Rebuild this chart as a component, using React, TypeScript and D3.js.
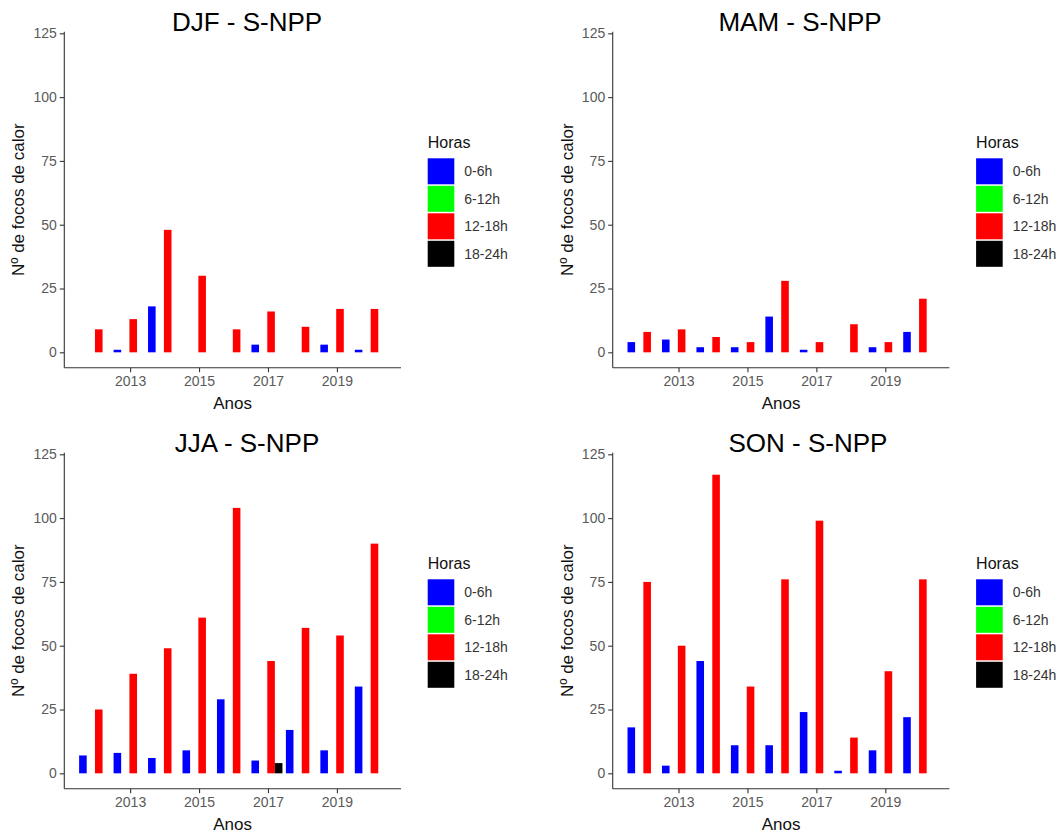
import { useRef, useEffect } from 'react';
import * as d3 from 'd3';

// years on the x axis
const years = [2012, 2013, 2014, 2015, 2016, 2017, 2018, 2019, 2020];
const xTicks = [2013, 2015, 2017, 2019];
const yTicks = [0, 25, 50, 75, 100, 125];
const hourLabels = ['0-6h', '6-12h', '12-18h', '18-24h'];
const hourColors = ['#0000ff', '#00ff00', '#ff0000', '#000000'];

// focos per year, null = no bar
const djfBlue = [null, 1, 18, null, null, 3, null, 3, 1];
const djfRed = [9, 13, 48, 30, 9, 16, 10, 17, 17];
const mamBlue = [4, 5, 2, 2, 14, 1, null, 2, 8];
const mamRed = [8, 9, 6, 4, 28, 4, 11, 4, 21];
const jjaBlue = [7, 8, 6, 9, 29, 5, 17, 9, 34];
const jjaRed = [25, 39, 49, 61, 104, 44, 57, 54, 90];
const jjaBlack = [null, null, null, null, null, 4, null, null, null];
const sonBlue = [18, 3, 44, 11, 11, 24, 1, 9, 22];
const sonRed = [75, 50, 117, 34, 76, 99, 14, 40, 76];

const seasons = ['DJF', 'MAM', 'JJA', 'SON'];
const seasonSeries = [
  [djfBlue, null, djfRed, null],
  [mamBlue, null, mamRed, null],
  [jjaBlue, null, jjaRed, jjaBlack],
  [sonBlue, null, sonRed, null],
];

const FONT = '"Liberation Sans", Arial, sans-serif';

export default function App() {
  const ref = useRef<SVGSVGElement>(null);

  useEffect(() => {
    const svg = d3.select(ref.current);
    svg.selectAll('*').remove();

    const plotW = 336.7;
    const plotH = 336;
    const offsets = [-0.37, 0, 0.09, 0.31];
    const barW = 0.22;
    const panels = [
      { left: 64.3, top: 31.7, titleX: 247 },
      { left: 612.7, top: 31.7, titleX: 800 },
      { left: 64.3, top: 452.7, titleX: 247 },
      { left: 612.7, top: 452.7, titleX: 808 },
    ];

    const x = d3.scaleLinear().domain([2011.09, 2020.86]).range([0, plotW]);
    const y = d3.scaleLinear().domain([-6.03, 125.63]).range([plotH, 0]);

    panels.forEach((p, pi) => {
      const g = svg.append('g').attr('transform', `translate(${p.left},${p.top})`);

      // bars
      seasonSeries[pi].forEach((series, hi) => {
        if (!series) return;
        series.forEach((v, i) => {
          if (v == null) return;
          const cx = years[i] + offsets[hi];
          g.append('rect')
            .attr('x', x(cx - barW / 2))
            .attr('y', y(v))
            .attr('width', x(cx + barW / 2) - x(cx - barW / 2))
            .attr('height', y(0) - y(v))
            .attr('fill', hourColors[hi]);
        });
      });

      // axes
      const ya = g.append('g').call(d3.axisLeft(y).tickValues(yTicks).tickSize(4.5).tickPadding(3));
      ya.select('.domain').attr('d', `M0,0V${plotH}`);
      const xa = g.append('g').attr('transform', `translate(0,${plotH})`)
        .call(d3.axisBottom(x).tickValues(xTicks).tickFormat(d3.format('d')).tickSize(4.5).tickPadding(4));
      xa.select('.domain').attr('d', `M0,0H${plotW}`);
      [ya, xa].forEach(a => {
        a.select('.domain').attr('stroke', '#333').attr('stroke-width', 1.1);
        a.selectAll('.tick line').attr('stroke', '#333').attr('stroke-width', 1.1);
        a.selectAll('text').attr('font-family', FONT).attr('font-size', 14).attr('fill', '#5a5a5a');
      });

      // title
      svg.append('text')
        .attr('x', p.titleX).attr('y', p.top - 1)
        .attr('text-anchor', 'middle')
        .attr('font-family', FONT).attr('font-size', 26).attr('fill', '#000')
        .text(`${seasons[pi]} - S-NPP`);

      // axis titles
      svg.append('text')
        .attr('x', p.left + plotW / 2).attr('y', p.top + plotH + 41.5)
        .attr('text-anchor', 'middle')
        .attr('font-family', FONT).attr('font-size', 17).attr('fill', '#111')
        .text('Anos');
      svg.append('text')
        .attr('transform', `translate(${p.left - 40},${p.top + plotH / 2}) rotate(-90)`)
        .attr('text-anchor', 'middle')
        .attr('font-family', FONT).attr('font-size', 17).attr('fill', '#111')
        .text('Nº de focos de calor');

      // legend
      const lg = svg.append('g').attr('transform', `translate(${p.left + 363.4},${p.top + 116.6})`);
      lg.append('text').attr('x', 0).attr('y', 0)
        .attr('font-family', FONT).attr('font-size', 16).attr('fill', '#111')
        .text('Horas');
      hourLabels.forEach((lab, i) => {
        lg.append('rect')
          .attr('x', 0).attr('y', 10 + i * 27.5)
          .attr('width', 26.6).attr('height', 26)
          .attr('fill', hourColors[i]);
        lg.append('text')
          .attr('x', 36.6).attr('y', 10 + i * 27.5 + 18)
          .attr('font-family', FONT).attr('font-size', 14).attr('fill', '#333')
          .text(lab);
      });
    });
  }, []);

  return (
    <div>
      <style>{'body{margin:0;background:#fff}'}</style>
      <svg ref={ref} width={1063} height={834} style={{ display: 'block', background: '#fff' }}></svg>
    </div>
  );
}
